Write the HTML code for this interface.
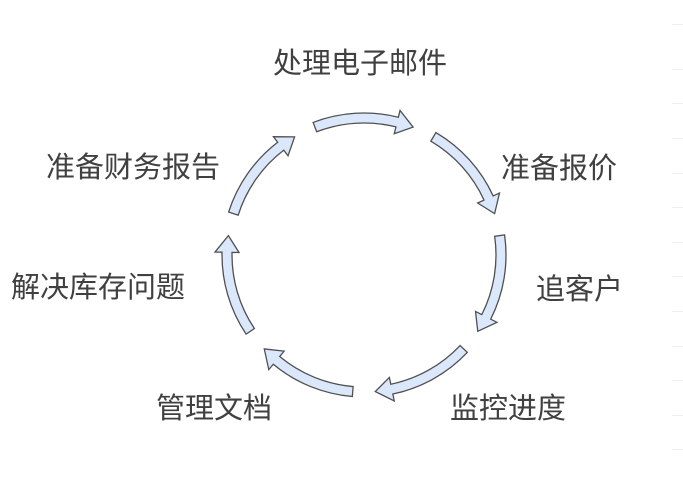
<!DOCTYPE html>
<html>
<head>
<meta charset="utf-8">
<style>
  html, body { margin:0; padding:0; background:#ffffff; }
  body { width:683px; height:477px; position:relative; overflow:hidden; }
  .t { position:absolute; font-family:"Liberation Sans","Noto Sans CJK SC",sans-serif; font-size:29px; line-height:29px; height:29px; color:#404040; white-space:nowrap; }
  svg { position:absolute; left:0; top:0; }
</style>
</head>
<body>
<svg width="683" height="477" viewBox="0 0 683 477">
  <g stroke="#eeeeee" stroke-width="1">
    <line x1="672" y1="24.5" x2="683" y2="24.5"/>
    <line x1="672" y1="69.5" x2="683" y2="69.5"/>
    <line x1="672" y1="103.5" x2="683" y2="103.5"/>
    <line x1="672" y1="138.5" x2="683" y2="138.5"/>
    <line x1="672" y1="173.5" x2="683" y2="173.5"/>
    <line x1="672" y1="207.5" x2="683" y2="207.5"/>
    <line x1="672" y1="242.5" x2="683" y2="242.5"/>
    <line x1="672" y1="276.5" x2="683" y2="276.5"/>
    <line x1="672" y1="311.5" x2="683" y2="311.5"/>
    <line x1="672" y1="346.5" x2="683" y2="346.5"/>
    <line x1="672" y1="380.5" x2="683" y2="380.5"/>
    <line x1="672" y1="415.5" x2="683" y2="415.5"/>
    <line x1="672" y1="449.5" x2="683" y2="449.5"/>
  </g>
  <g fill="#dbe7fb" stroke="#505050" stroke-width="1.3" stroke-linejoin="miter">
    <path d="M313.11,122.43 A142,142 0 0 1 398.35,117.22 L400.05,110.43 L413.10,127.10 L394.24,133.71 L395.93,126.92 A132,132 0 0 0 316.70,131.77 Z"/>
    <path d="M435.92,132.55 A142,142 0 0 1 493.14,195.95 L499.51,193.04 L494.61,213.64 L477.68,203.02 L484.05,200.11 A132,132 0 0 0 430.86,141.18 Z"/>
    <path d="M504.57,234.89 A142,142 0 0 1 490.68,319.15 L496.93,322.31 L477.77,331.33 L475.52,311.47 L481.76,314.63 A132,132 0 0 0 494.67,236.30 Z"/>
    <path d="M467.37,352.36 A142,142 0 0 1 392.83,394.04 L394.25,400.90 L375.26,391.54 L389.38,377.40 L390.80,384.25 A132,132 0 0 0 460.09,345.51 Z"/>
    <path d="M352.33,396.52 A142,142 0 0 1 273.27,364.23 L268.79,369.62 L264.27,348.93 L284.13,351.16 L279.66,356.54 A132,132 0 0 0 353.15,386.55 Z"/>
    <path d="M246.08,334.11 A142,142 0 0 1 222.03,252.17 L215.03,252.03 L228.38,235.60 L239.02,252.51 L232.03,252.37 A132,132 0 0 0 254.38,328.54 Z"/>
    <path d="M228.62,212.13 A142,142 0 0 1 277.69,142.23 L273.44,136.67 L294.61,136.87 L288.02,155.73 L283.77,150.17 A132,132 0 0 0 238.16,215.15 Z"/>
  </g>
</svg>
<div class="t" style="left:273px; top:50px;">处理电子邮件</div>
<div class="t" style="left:46px; top:154px;">准备财务报告</div>
<div class="t" style="left:11px; top:274px;">解决库存问题</div>
<div class="t" style="left:501px; top:155px;">准备报价</div>
<div class="t" style="left:536px; top:276px;">追客户</div>
<div class="t" style="left:156px; top:395px;">管理文档</div>
<div class="t" style="left:450px; top:395px;">监控进度</div>
</body>
</html>
